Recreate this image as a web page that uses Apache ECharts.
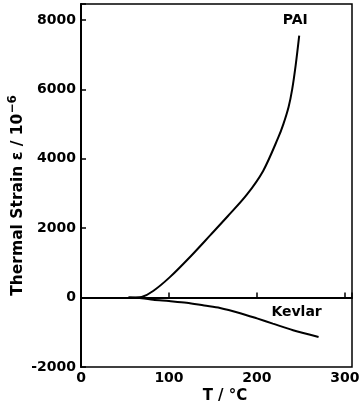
<!DOCTYPE html>
<html>
<head>
<meta charset="utf-8">
<script src="https://cdn.jsdelivr.net/npm/echarts@6/dist/echarts.min.js"></script>
<style>
html,body{margin:0;padding:0;background:#fff;}
#chart{width:361px;height:411px;}
</style>
</head>
<body>
<div id="chart"></div>
<script>
const paiT = [54, 62, 69, 82, 101, 125, 147, 167, 188, 207, 224, 230, 236, 240, 244, 248];
const paiStrain = [0, 0, 15, 190, 590, 1200, 1800, 2350, 2950, 3650, 4600, 5000, 5500, 6000, 6700, 7550];
const kevlarT = [54, 69, 82, 100, 120, 140, 158, 181, 200, 218, 241, 270];
const kevlarStrain = [0, -20, -60, -100, -150, -230, -300, -450, -600, -750, -940, -1134];
const seriesNames = ['PAI', 'Kevlar'];
const xTitle = 'T / °C';
const yTitle = 'Thermal Strain ε / 10';
const ySup = '−6';

const font = 'DejaVu Sans';
const pair = (xs, ys) => xs.map((x, i) => [x, ys[i]]);

const chart = echarts.init(document.getElementById('chart'));
chart.setOption({
  animation: false,
  backgroundColor: '#fff',
  grid: { left: 81, right: 9, top: 4, bottom: 44, show: true, borderColor: '#000', borderWidth: 1.5,
    containLabel: false, outerBoundsMode: 'none' },
  xAxis: {
    type: 'value', min: 0, max: 308, interval: 100,
    name: xTitle, nameLocation: 'middle', nameGap: 22, nameMoveOverlap: false,
    nameTextStyle: { fontFamily: font, fontSize: 15, fontWeight: 'bold', color: '#000', padding: [0, 0, 0, 17] },
    axisLine: { lineStyle: { color: '#000', width: 2 } },
    axisTick: { inside: true, length: 5, lineStyle: { color: '#000', width: 1.5 } },
    axisLabel: { margin: 5, fontFamily: font, fontSize: 14, fontWeight: 'bold', color: '#000', lineHeight: 12,
      hideOverlap: false,
      formatter: v => (v % 100 === 0 ? String(v) : '') },
    splitLine: { show: false }
  },
  yAxis: {
    type: 'value', min: -2000, max: 8460, interval: 2000,
    name: '{m|' + yTitle + '}{s|' + ySup + '}', nameLocation: 'middle', nameGap: 53, nameMoveOverlap: false,
    nameTextStyle: { color: '#000', padding: [0, 20, 0, 0],
      rich: {
        m: { fontFamily: font, fontSize: 15.5, fontWeight: 'bold', color: '#000' },
        s: { fontFamily: font, fontSize: 12, fontWeight: 'bold', color: '#000', verticalAlign: 'bottom', padding: [0, 0, 9, 0] }
      } },
    axisLine: { lineStyle: { color: '#000', width: 2 } },
    axisTick: { inside: true, length: 5, lineStyle: { color: '#000', width: 1.5 } },
    axisLabel: { margin: 5, fontFamily: font, fontSize: 14, fontWeight: 'bold', color: '#000', lineHeight: 12,
      hideOverlap: false, showMinLabel: true,
      formatter: v => (v % 2000 === 0 ? String(v) : '') },
    splitLine: { show: false }
  },
  series: [
    {
      name: seriesNames[0], type: 'line', smooth: 0.3, symbol: 'none',
      data: pair(paiT, paiStrain),
      lineStyle: { color: '#000', width: 2 },
      endLabel: { show: true, formatter: seriesNames[0], distance: 0, align: 'center', verticalAlign: 'middle',
        offset: [-4, -15], fontFamily: font, fontSize: 14, fontWeight: 'bold', color: '#000' }
    },
    {
      name: seriesNames[1], type: 'line', smooth: 0.3, symbol: 'none',
      data: pair(kevlarT, kevlarStrain),
      lineStyle: { color: '#000', width: 2 },
      endLabel: { show: true, formatter: seriesNames[1], distance: 0, align: 'center', verticalAlign: 'middle',
        offset: [-22, -25], fontFamily: font, fontSize: 14, fontWeight: 'bold', color: '#000' }
    }
  ]
});
</script>
</body>
</html>
